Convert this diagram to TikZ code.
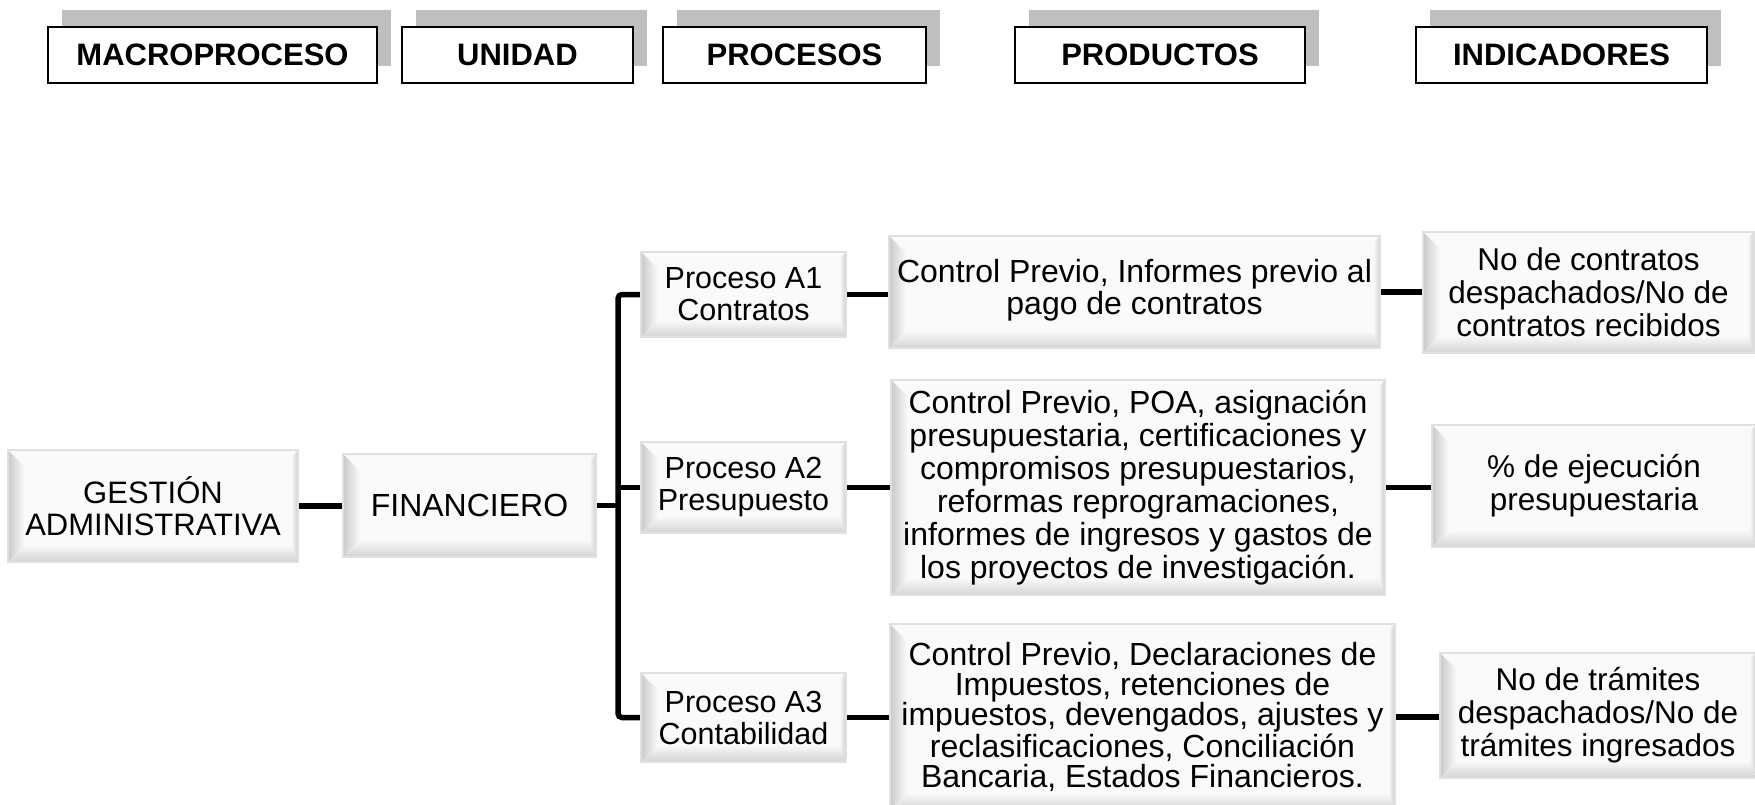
\documentclass[tikz,border=0pt]{standalone}
\usepackage{fontspec}
\setmainfont{Liberation Sans}
\usetikzlibrary{shadows}
\newcommand{\fz}[2]{\fontsize{#1}{#2}\selectfont}
\begin{document}
\begin{tikzpicture}[x=1pt,y=-1pt,
  conn/.style={line width=5.5pt, black},
  hdr/.style={draw=black, line width=2pt, fill=white, inner sep=0pt,
    minimum height=56pt, font=\bfseries\fz{31}{33},
    drop shadow={shadow xshift=14pt, shadow yshift=17pt, fill=black!25, opacity=1}},
  bev/.style={draw=black!12, line width=2.5pt, fill=black!2, inner sep=0pt, align=center,
    path picture={
      \path (path picture bounding box.south west) coordinate (bSW)
            (path picture bounding box.north west) coordinate (bNW)
            (path picture bounding box.south east) coordinate (bSE)
            (path picture bounding box.north east) coordinate (bNE);
      \shade[left color=black!21, right color=black!3]
        (bSW) -- (bNW) -- ([shift={(16pt,-16pt)}]bNW) -- ([shift={(16pt,16pt)}]bSW) -- cycle;
      \shade[top color=black!3, bottom color=black!17]
        (bSW) -- ([shift={(16pt,16pt)}]bSW) -- ([shift={(-6pt,16pt)}]bSE) -- (bSE) -- cycle;
      \shade[left color=black!3, right color=black!20]
        (bSE) -- ([shift={(-6pt,16pt)}]bSE) -- ([shift={(-6pt,-6pt)}]bNE) -- (bNE) -- cycle;
    }}]
\useasboundingbox (0,0) rectangle (1755,804);

% header row
\node[hdr, minimum width=329pt] (mac) at (212.5,55) {MACROPROCESO};
\node[hdr, minimum width=231pt] (uni) at (517.5,55) {UNIDAD};
\node[hdr, minimum width=263pt] (pro) at (794.5,55) {PROCESOS};
\node[hdr, minimum width=290pt] (prd) at (1160,55) {PRODUCTOS};
\node[hdr, minimum width=291pt] (ind) at (1561.5,55) {INDICADORES};

% main boxes
\node[bev, minimum width=290pt, minimum height=112pt, font=\fz{31}{32}] (ges) at (153,506) {GESTIÓN\\ADMINISTRATIVA};
\node[bev, minimum width=253pt, minimum height=103pt, font=\fz{32}{33}] (fin) at (469.5,505.5) {FINANCIERO};

\node[bev, minimum width=205pt, minimum height=85pt, font=\fz{30.5}{32}] (a1) at (743.5,294.5) {Proceso A1\\Contratos};
\node[bev, minimum width=205pt, minimum height=91pt, font=\fz{30.5}{32}] (a2) at (743.5,487.5) {Proceso A2\\Presupuesto};
\node[bev, minimum width=205pt, minimum height=89pt, font=\fz{30.5}{32}] (a3) at (743.5,717.5) {Proceso A3\\Contabilidad};

\node[bev, minimum width=491pt, minimum height=112pt, font=\fz{32}{33}] (p1) at (1134.5,292) {\raisebox{-5pt}{\begin{tabular}{@{}c@{}}Control Previo, Informes previo al\\[-0.5pt]pago de contratos\end{tabular}}};
\node[bev, minimum width=494pt, minimum height=215pt, font=\fz{32}{33}] (p2) at (1138,487.5) {Control Previo, POA, asignación\\presupuestaria, certificaciones y\\compromisos presupuestarios,\\reformas reprogramaciones,\\informes de ingresos y gastos de\\los proyectos de investigación.};
\node[bev, minimum width=505pt, minimum height=186pt, font=\fz{32}{30}] (p3) at (1142.5,717) {Control Previo, Declaraciones de\\Impuestos, retenciones de\\impuestos, devengados, ajustes y\\reclasificaciones, Conciliación\\Bancaria, Estados Financieros.};

\node[bev, minimum width=331pt, minimum height=121pt, font=\fz{31.5}{33}] (i1) at (1588.5,292.5) {No de contratos\\despachados/No de\\contratos recibidos};
\node[bev, minimum width=324pt, minimum height=122pt, font=\fz{31.5}{33}] (i2) at (1594,486) {\% de ejecución\\presupuestaria};
\node[bev, minimum width=316pt, minimum height=125pt, font=\fz{31.5}{33}] (i3) at (1598,715.5) {No de trámites\\despachados/No de\\trámites ingresados};

% connectors
\coordinate (bx) at (618,507);
\draw[conn] (ges.east) -- (ges.east -| fin.west);
\draw[conn] (fin.east) -- (fin.east -| bx);
\draw[conn, rounded corners=4pt] (a1.west) -| (bx) |- (a3.west);
\draw[conn] (a2.west) -- (a2.west -| bx);
\draw[conn] (a1.east) -- (a1.east -| p1.west);
\draw[conn] (a2.east) -- (a2.east -| p2.west);
\draw[conn] (a3.east) -- (a3.east -| p3.west);
\draw[conn] (p1.east) -- (p1.east -| i1.west);
\draw[conn] (p2.east) -- (p2.east -| i2.west);
\draw[conn] (p3.east) -- (p3.east -| i3.west);
\end{tikzpicture}
\end{document}
